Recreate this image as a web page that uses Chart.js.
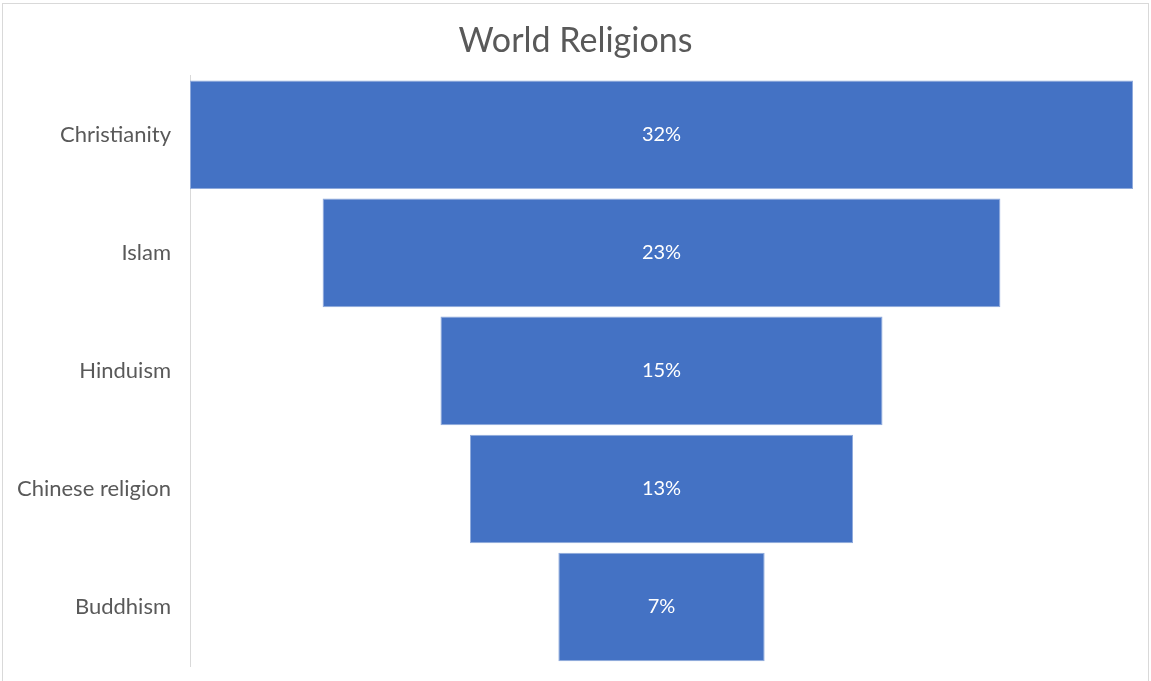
<!DOCTYPE html>
<html>
<head>
<meta charset="utf-8">
<script src="https://cdn.jsdelivr.net/npm/chart.js@4"></script>
<style>
  html, body { margin: 0; padding: 0; background: #fff; }
  #wrap { position: relative; width: 1151px; height: 681px; }
  #frame { position: absolute; left: 2px; top: 3px; width: 1147px; height: 680px; border: 1px solid #d9d9d9; box-sizing: border-box; pointer-events: none; }
  canvas { position: absolute; left: 0; top: 0; }
</style>
</head>
<body>
<div id="wrap">
  <canvas id="c" width="1151" height="681"></canvas>
  <div id="frame"></div>
</div>
<script>
const categories = ["Christianity", "Islam", "Hinduism", "Chinese religion", "Buddhism"];
const shares = [32, 23, 15, 13, 7];
const titleText = "World Religions";

const labelPlugin = {
  id: 'funnelLabels',
  afterDatasetsDraw(chart) {
    const ctx = chart.ctx;
    const meta = chart.getDatasetMeta(0);
    ctx.save();
    ctx.fillStyle = '#ffffff';
    ctx.font = '20px Lato, "Open Sans", sans-serif';
    ctx.textAlign = 'center';
    ctx.textBaseline = 'middle';
    meta.data.forEach((bar, i) => {
      const p = bar.getProps(['x', 'y', 'base'], true);
      ctx.fillText(shares[i] + '%', (p.x + p.base) / 2, p.y);
    });
    ctx.restore();
  }
};

new Chart(document.getElementById('c'), {
  type: 'bar',
  data: {
    labels: categories,
    datasets: [{
      data: shares.map(v => [-v / 2, v / 2]),
      backgroundColor: '#4472C4',
      borderColor: '#8FAADC',
      borderWidth: 1,
      borderSkipped: false,
      barPercentage: 0.92,
      categoryPercentage: 1.0
    }]
  },
  options: {
    indexAxis: 'y',
    responsive: false,
    animation: false,
    layout: { padding: { top: 0, right: 18, bottom: 15, left: 18 } },
    plugins: {
      legend: { display: false },
      tooltip: { enabled: false },
      title: {
        display: true,
        text: titleText,
        color: '#595959',
        font: { family: 'Lato, "Open Sans", sans-serif', size: 34, weight: 'normal' },
        padding: { top: 21, bottom: 14 }
      }
    },
    scales: {
      x: { display: false, min: -16, max: 16 },
      y: {
        grid: { display: false, drawTicks: false },
        border: { display: true, color: '#d9d9d9', width: 1 },
        ticks: {
          color: '#595959',
          padding: 19,
          font: { family: 'Lato, "Open Sans", sans-serif', size: 22 }
        },
        afterFit(scale) { scale.width = 172; scale.paddingTop = 0; scale.paddingBottom = 0; }
      }
    }
  },
  plugins: [labelPlugin]
});
</script>
</body>
</html>
